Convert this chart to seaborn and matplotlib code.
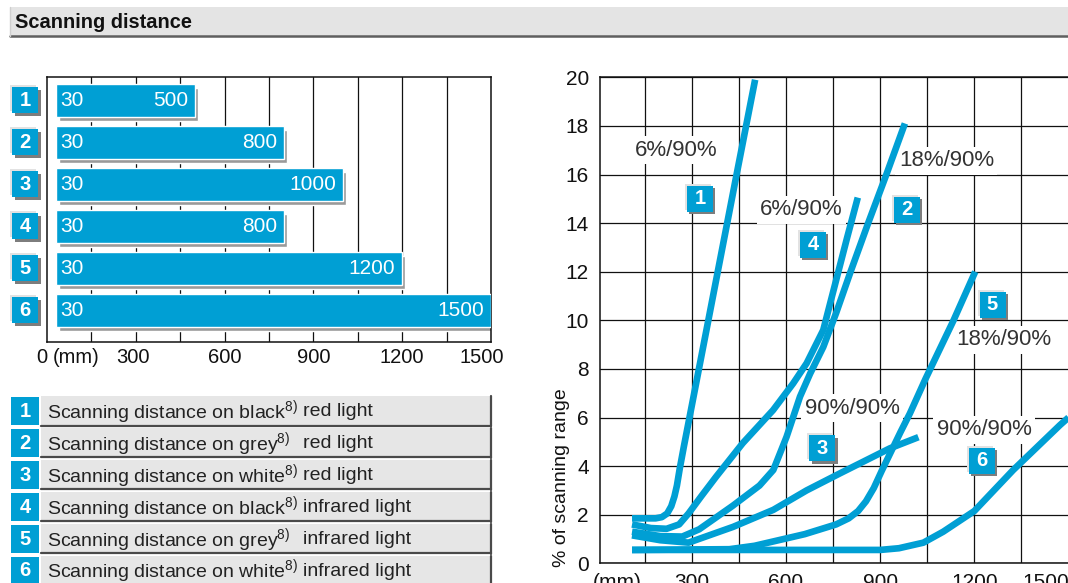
import matplotlib
matplotlib.use('Agg')
import matplotlib.pyplot as plt
import seaborn as sns
import numpy as np
from matplotlib.patches import Rectangle
from matplotlib.transforms import offset_copy, blended_transform_factory

BLUE = '#009fd4'

# ---- data ----
bar_ids = ['1', '2', '3', '4', '5', '6']
bar_min = [30, 30, 30, 30, 30, 30]
bar_max = [500, 800, 1000, 800, 1200, 1500]

legend_target = ['black', 'grey', 'white', 'black', 'grey', 'white']
legend_light = ['red light', 'red light', 'red light',
                'infrared light', 'infrared light', 'infrared light']

# % of scanning range vs distance (mm)
c1_x = [110, 185, 205, 222, 235, 245, 253, 262, 275, 299, 326, 356, 380, 443, 502]
c1_y = [1.85, 1.85, 1.9, 2.05, 2.35, 2.75, 3.2, 3.9, 4.8, 6.4, 8.2, 10.2, 11.8, 16.0, 19.9]
c2_x = [110, 200, 270, 324, 431, 516, 560, 602, 645, 677, 719, 760, 806, 862, 920, 979]
c2_y = [1.3, 1.12, 1.1, 1.4, 2.37, 3.2, 3.84, 5.2, 6.86, 7.8, 8.9, 10.3, 12.0, 14.0, 16.0, 18.1]
c3_x = [110, 200, 290, 432, 560, 666, 772, 931, 1022]
c3_y = [1.15, 0.95, 0.85, 1.5, 2.2, 3.0, 3.7, 4.73, 5.19]
c4_x = [110, 170, 220, 260, 290, 330, 377, 463, 559, 623, 666, 719, 751, 795, 829]
c4_y = [1.6, 1.45, 1.42, 1.6, 2.05, 2.75, 3.55, 4.95, 6.3, 7.4, 8.23, 9.6, 11.2, 13.4, 15.05]
c5_x = [110, 420, 500, 560, 660, 760, 800, 830, 855, 880, 905, 935, 965, 995, 1045, 1134, 1203]
c5_y = [0.55, 0.58, 0.72, 0.9, 1.2, 1.6, 1.85, 2.15, 2.55, 3.1, 3.8, 4.6, 5.4, 6.17, 7.6, 10.0, 12.0]
c6_x = [110, 900, 960, 1038, 1101, 1200, 1324, 1473, 1500]
c6_y = [0.55, 0.55, 0.62, 0.85, 1.3, 2.15, 3.84, 5.69, 6.0]
curves = [(c1_x, c1_y), (c2_x, c2_y), (c3_x, c3_y),
          (c4_x, c4_y), (c5_x, c5_y), (c6_x, c6_y)]

ratio_text = ['6%/90%', '18%/90%', '90%/90%', '6%/90%', '18%/90%', '90%/90%']
ratio_pos = [(250, 17.0), (1111, 16.56), (812, 6.39), (650, 14.54), (1293, 9.19), (1232, 5.49)]
badge_pos = [(326, 15.0), (985, 14.54), (715, 4.74), (686, 13.1), (1258, 10.63), (1223, 4.23)]

# ---- style ----
sns.set_style('white')
plt.rcParams['font.family'] = ['Liberation Sans', 'DejaVu Sans']
plt.rcParams['mathtext.fontset'] = 'custom'
plt.rcParams['mathtext.rm'] = 'Liberation Sans'
plt.rcParams['mathtext.it'] = 'Liberation Sans:italic'
plt.rcParams['mathtext.bf'] = 'Liberation Sans:bold'

W, H = 1068, 583
fig = plt.figure(figsize=(W / 100, H / 100), dpi=100)


def px_box(l, r, t, b):
    return [l / W, 1 - b / H, (r - l) / W, (b - t) / H]


def badge(ax, x, y, num, trans, size=27):
    s = (size * 0.72) ** 2
    sh = offset_copy(trans, fig=fig, x=2.5, y=-2.5, units='dots')
    lt = offset_copy(trans, fig=fig, x=-2, y=2, units='dots')
    ax.scatter([x], [y], marker='s', s=s, color='#7d7d7d', linewidths=0,
               transform=sh, clip_on=False, zorder=6)
    ax.scatter([x], [y], marker='s', s=s, color='#e2e2e2', linewidths=0,
               transform=lt, clip_on=False, zorder=6)
    ax.scatter([x], [y], marker='s', s=s, color=BLUE, linewidths=0,
               transform=trans, clip_on=False, zorder=7)
    ax.text(x, y, num, transform=trans, color='white', fontsize=14.5,
            fontweight='bold', ha='center', va='center', zorder=8)


# overlay in pixel coordinates (title bar, legend table)
ov = fig.add_axes([0, 0, 1, 1])
ov.set_xlim(0, W)
ov.set_ylim(H, 0)
ov.axis('off')

ov.add_patch(Rectangle((10, 7), W - 10, 29, fc='#e4e4e4', ec='none'))
ov.plot([10, W], [36, 36], color='#5f5f5f', lw=1.8)
ov.plot([10, 10], [7, 36], color='#cfcfcf', lw=1)
ov.text(15, 22, 'Scanning distance', fontsize=14.4, fontweight='bold',
        va='center', ha='left', color='#111')

for i in range(6):
    top = 396 + 31.9 * i
    ov.add_patch(Rectangle((41, top), 450, 29, fc='#e6e6e6', ec='none'))
    ov.plot([491, 491], [top, top + 30], color='#4a4a4a', lw=1.6)
    ov.plot([41, 491], [top + 29.5, top + 29.5], color='#4a4a4a', lw=1.6)
    ov.add_patch(Rectangle((11, top + 1), 28, 28, fc=BLUE, ec='none'))
    ov.text(25, top + 15.5, bar_ids[i], color='white', fontsize=14.5,
            fontweight='bold', ha='center', va='center')
    ov.text(46.7, top + 16, 'Scanning distance on ' + legend_target[i] + r'$^{8)}$',
            fontsize=14, color='#222', va='center', ha='left')
    ov.text(302.7, top + 16, legend_light[i], fontsize=14, color='#222',
            va='center', ha='left')

# ---- bar chart ----
axb = fig.add_axes(px_box(47, 491, 77, 342.3))
ypos = np.arange(len(bar_ids))
widths = [b - a for a, b in zip(bar_min, bar_max)]
shadow = offset_copy(axb.transData, fig=fig, x=3, y=-4, units='dots')
axb.barh(ypos, widths, left=bar_min, height=0.78, color='#9a9a9a',
         transform=shadow, zorder=2)
axb.barh(ypos, widths, left=bar_min, height=0.78, color=BLUE, zorder=3)
for i in range(len(bar_ids)):
    axb.annotate(str(bar_min[i]), (bar_min[i], i), xytext=(3, 0),
                 textcoords='offset points', color='white', fontsize=15,
                 ha='left', va='center', zorder=4)
    axb.annotate(str(bar_max[i]), (bar_max[i], i), xytext=(-5, 0),
                 textcoords='offset points', color='white', fontsize=15,
                 ha='right', va='center', zorder=4)
    badge(axb, 25, i, bar_ids[i], blended_transform_factory(ov.transData, axb.transData))

axb.set_xlim(0, 1500)
axb.set_ylim(5.76, -0.555)
axb.set_yticks([])
axb.set_xticks([0, 100, 290, 600, 900, 1200, 1470])
axb.set_xticklabels(['0', '(mm)', '300', '600', '900', '1200', '1500'], fontsize=14.5)
axb.get_xticklabels()[0].set_ha('right')
axb.set_xticks(np.arange(150, 1500, 150), minor=True)
axb.xaxis.remove_overlapping_locs = False
axb.tick_params(axis='x', which='both', length=0, pad=4, colors='#111')
axb.grid(False)
axb.grid(True, which='minor', axis='x', color='#111', lw=0.9)
axb.set_axisbelow(True)
for sp in axb.spines.values():
    sp.set_color('#111')
    sp.set_linewidth(1.1)
    sp.set_visible(True)

# ---- curve chart ----
axr = fig.add_axes(px_box(600, 1068.5, 77.3, 563.3))
for cx, cy in curves:
    sns.lineplot(x=cx, y=cy, sort=False, estimator=None, color=BLUE, lw=4.8,
                 ax=axr, solid_capstyle='butt', solid_joinstyle='round', zorder=3)
for txt, (tx, ty) in zip(ratio_text, ratio_pos):
    axr.text(tx, ty, txt, fontsize=16, color='#333', ha='center', va='center',
             zorder=2, bbox=dict(fc='white', ec='none', pad=2.5))
for num, (bx, by) in zip(bar_ids, badge_pos):
    badge(axr, bx, by, num, axr.transData, size=27)

axr.set_xlim(8, 1500)
axr.set_ylim(0, 20)
axr.set_yticks(np.arange(0, 21, 2))
axr.set_yticklabels([str(v) for v in range(0, 21, 2)], fontsize=15)
axr.set_xticks([62, 300, 600, 900, 1200, 1428])
axr.set_xticklabels(['(mm)', '300', '600', '900', '1200', '1500'], fontsize=15)
axr.set_xticks(np.arange(150, 1500, 150), minor=True)
axr.xaxis.remove_overlapping_locs = False
axr.tick_params(axis='both', which='both', length=0, colors='#111')
axr.tick_params(axis='y', pad=8)
axr.tick_params(axis='x', pad=7)
axr.grid(False)
axr.grid(True, which='minor', axis='x', color='#111', lw=0.9)
axr.grid(True, which='major', axis='y', color='#111', lw=0.9)
axr.set_axisbelow(True)
for sp in axr.spines.values():
    sp.set_color('#111')
    sp.set_linewidth(1.1)
    sp.set_visible(True)
axr.set_xlabel('')
axr.set_ylabel('')
fig.text(562 / W, 1 - 478 / H, '% of scanning range', rotation=90, fontsize=14,
         ha='center', va='center', color='#111')

fig.savefig('out.png', dpi=100)
